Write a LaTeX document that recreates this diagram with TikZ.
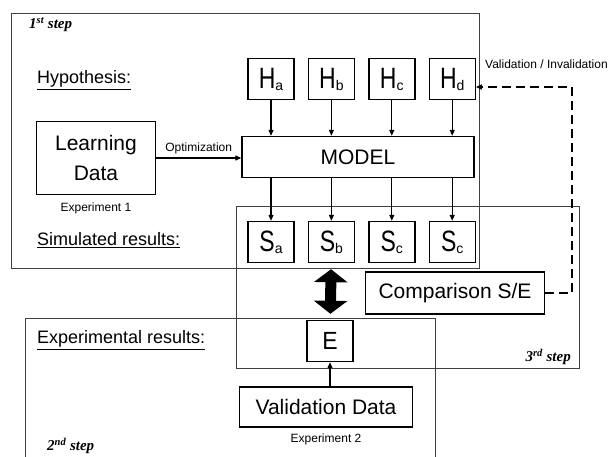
\documentclass[tikz,border=0pt]{standalone}
\usepackage{fontspec}
\setmainfont{Liberation Sans}
\newfontfamily\stepfont{Liberation Serif}
\usetikzlibrary{arrows.meta,positioning,calc}
\newcommand{\hsub}[2]{\scalebox{1}[1.28]{#1}{\fontsize{14}{14}\selectfont\raisebox{-2pt}{#2}}}
\newcommand{\stepno}[2]{{\stepfont\bfseries\itshape #1\textsuperscript{#2} step}}

\begin{document}
\begin{tikzpicture}[
    x=1pt, y=-1pt,
    frame/.style={draw=black!75, line width=0.8pt},
    block/.style={draw, line width=1.4pt, inner sep=0pt, font=\fontsize{21}{30}\selectfont, align=center},
    hyp/.style={block, minimum width=46pt, minimum height=41pt, font=\fontsize{23}{24}\selectfont},
    title/.style={font=\fontsize{18}{20}\selectfont, anchor=west, inner sep=0pt},
    note/.style={font=\fontsize{12}{14}\selectfont, inner sep=1pt},
    steplabel/.style={font=\fontsize{15}{16}\selectfont, inner sep=0pt},
    arrow/.style={-{Triangle[length=6pt,width=5pt]}, line width=1.2pt},
    dasharrow/.style={-{Triangle[length=6pt,width=5pt]}, line width=1.6pt, dash pattern=on 9pt off 5pt},
    bigarrow/.style={{Triangle[length=13pt,width=33pt]}-{Triangle[length=13pt,width=33pt]}, line width=11pt}
]
    \useasboundingbox (0,0) rectangle (613,457);
    \draw[frame] (11,13) rectangle (479,268);
    \draw[frame] (236,206) rectangle (579,368);
    \draw[frame] (25,460) |- (435,318) -- (435,460);

    \node[steplabel, anchor=west] (step1) at (29,25) {\stepno{1}{st}};
    \node[steplabel, anchor=west] (step2) at (47,446) {\stepno{2}{nd}};
    \node[steplabel, anchor=east] (step3) at (571,357) {\stepno{3}{rd}};

    \node[title] (hyptxt) at (37,80) {\underline{Hypothesis:}};
    \node[title] (simtxt) at (37,240) {\underline{Simulated results:}};
    \node[title] (exptxt) at (37,340) {\underline{Experimental results:}};

    \node[hyp] (ha) at (271,79) {\hsub{H}{a}};
    \node[hyp, right=13pt of ha] (hb) {\hsub{H}{b}};
    \node[hyp, right=13pt of hb] (hc) {\hsub{H}{c}};
    \node[hyp, right=13pt of hc] (hd) {\hsub{H}{d}};
    \node[block, minimum width=232pt, minimum height=41pt] (model) at (358,157) {MODEL};
    \node[block, minimum width=119pt, minimum height=73pt] (learn) at (96,158) {Learning\\Data};
    \node[note, below=6pt of learn] (exp1) {Experiment 1};

    \node[hyp] (sa) at (271,242) {\hsub{S}{a}};
    \node[hyp, right=13pt of sa] (sb) {\hsub{S}{b}};
    \node[hyp, right=13pt of sb] (sc) {\hsub{S}{c}};
    \node[hyp, right=13pt of sc] (sd) {\hsub{S}{c}};

    \node[block, minimum width=179pt, minimum height=42pt] (comp) at (455,293) {Comparison S/E};
    \node[hyp] (e) at (330,341) {\scalebox{1}[1.08]{E}};
    \node[block, minimum width=173pt, minimum height=40pt] (valid) at (326,407) {Validation Data};
    \node[note, below=5pt of valid] (exp2) {Experiment 2};
    \node[note, anchor=west] (vallabel) at (484,64) {Validation / Invalidation};

    \foreach \i in {a,b,c,d} {
        \draw[arrow] (h\i) -- (h\i |- model.north);
        \draw[arrow] (model.south -| s\i) -- (s\i);
    }
    \draw[arrow] (learn) -- (learn -| model.west) node[note, midway, above=2pt] (optlabel) {Optimization};
    \draw[bigarrow, shorten <=6pt, shorten >=6pt] (sb) -- (e);
    \draw[arrow] (valid.north -| e) -- (e);
    \draw[dasharrow] (comp.east) -- ++(27,0) |- ([yshift=-8pt]hd.east);
\end{tikzpicture}
\end{document}
